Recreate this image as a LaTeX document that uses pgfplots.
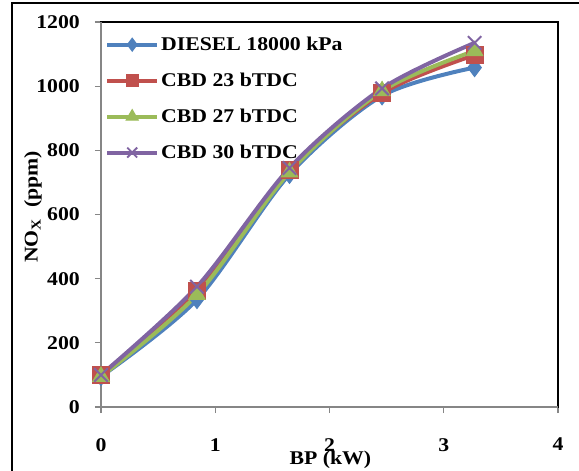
\documentclass[border=0pt]{standalone}
\usepackage{fontspec}
\setmainfont{Liberation Serif}[FakeStretch=1.12]
\usepackage{pgfplots}
\pgfplotsset{compat=1.18}
\definecolor{sBlue}{HTML}{4F81BD}
\definecolor{sRed}{HTML}{C0504D}
\definecolor{sGreen}{HTML}{9BBB59}
\definecolor{sPurple}{HTML}{8064A2}
\definecolor{axgray}{HTML}{868686}

\begin{document}
\begin{tikzpicture}
\useasboundingbox (0,0) rectangle (579bp,471bp);
\draw[line width=2bp] (12bp,0) -- (12bp,468bp) -- (579bp,468bp);
\begin{axis}[
    at={(101bp,64bp)}, anchor=south west,
    width=457bp, height=385bp, scale only axis,
    xmin=0, xmax=4, ymin=0, ymax=1200,
    xtick={0,1,2,3,4}, ytick={0,200,...,1200},
    tick align=outside, major tick length=6bp,
    tick style={color=axgray, line width=1.2bp},
    xtick pos=bottom, ytick pos=left,
    axis line style={line width=1.5bp, black},
    clip=false,
    /pgf/number format/assume math mode=true,
    /pgf/number format/1000 sep={},
    tick label style={font=\fontsize{19.5}{22}\selectfont\bfseries},
    yticklabel style={inner sep=0pt, anchor=east, xshift=-15bp},
    xticklabel style={inner sep=0pt, anchor=north, yshift=-25bp},
    xlabel={BP (kW)},
    xlabel style={at={(axis description cs:0.502,-0.138)}, anchor=center,
        font=\fontsize{19.5}{22}\selectfont\bfseries},
    ylabel={NO\textsubscript{X}\ \ (ppm)},
    ylabel style={at={(axis description cs:-0.149,0.52)}, anchor=center, rotate=0,
        font=\fontsize{19.5}{22}\selectfont\bfseries},
    legend cell align=left,
    legend style={at={(axis description cs:0,1)}, anchor=north west,
        xshift=1bp, yshift=-11bp, draw=none, fill=none,
        font=\fontsize{19.5}{22}\selectfont\bfseries, row sep=17bp},
    legend image code/.code={\draw[#1] plot coordinates {(0bp,0bp) (25bp,0bp) (50bp,0bp)};},
    every axis plot/.append style={line width=4bp, smooth},
]
\addlegendimage{sBlue, mark=diamond*, mark size=6.5bp, mark options={line width=1bp}, mark repeat=2, mark phase=2}
\addlegendentry{DIESEL 18000 kPa}
\addlegendimage{sRed, mark=square*, mark size=6bp, mark options={line width=1bp}, mark repeat=2, mark phase=2}
\addlegendentry{CBD 23 bTDC}
\addlegendimage{sGreen, mark=triangle*, mark size=7bp, mark options={line width=1bp}, mark repeat=2, mark phase=2}
\addlegendentry{CBD 27 bTDC}
\addlegendimage{sPurple, mark=x, mark size=7bp, mark options={line width=1.8bp}, mark repeat=2, mark phase=2}
\addlegendentry{CBD 30 bTDC}

\addplot[forget plot, sBlue, mark=diamond*, mark size=9bp, mark options={line width=1bp}]
  coordinates {(0,95) (0.84,335) (1.65,725) (2.46,970) (3.27,1058)};
\addplot[forget plot, sRed, mark=square*, mark size=8.5bp, mark options={line width=1bp}]
  coordinates {(0,100) (0.84,360) (1.65,738) (2.46,978) (3.27,1097)};
\addplot[forget plot, sGreen, mark=triangle*, mark size=9.5bp, mark options={line width=1bp}]
  coordinates {(0,95) (0.84,350) (1.65,732) (2.46,985) (3.27,1110)};
\addplot[forget plot, sPurple, mark=x, mark size=9.5bp, mark options={line width=2bp}]
  coordinates {(0,100) (0.84,375) (1.65,745) (2.46,993) (3.27,1135)};

\draw[axgray, line width=2bp] (rel axis cs:0,1) -- (rel axis cs:0,0) -- (rel axis cs:1,0);
\end{axis}
\end{tikzpicture}
\end{document}
